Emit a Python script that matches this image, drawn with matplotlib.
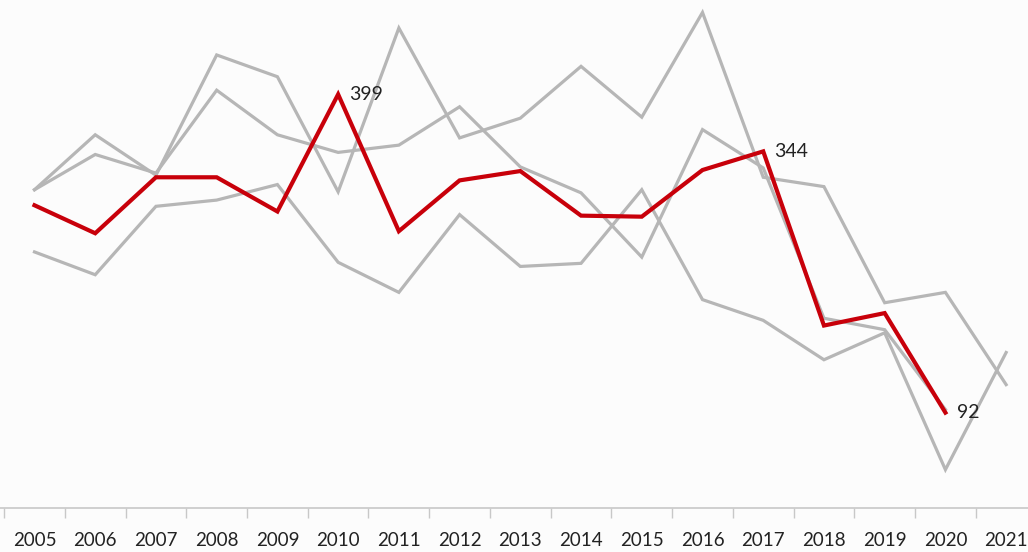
import matplotlib
matplotlib.use('Agg')
import matplotlib.pyplot as plt
import numpy as np

plt.rcParams['font.family'] = ['Lato', 'DejaVu Sans']

# Years on the category axis
years = ['2005', '2006', '2007', '2008', '2009', '2010', '2011', '2012', '2013',
         '2014', '2015', '2016', '2017', '2018', '2019', '2020', '2021']

# Highlighted series (red), no value for 2021
red_values = [292, 265, 319, 319, 286, 399, 267, 316, 325, 282, 281, 326, 344, 176, 188, 92]

# Background series (grey)
grey_a = [307, 360, 321, 437, 416, 305, 463, 357, 376, 426, 377, 478, 319, 310, 198, 208, 119]
grey_b = [307, 341, 323, 403, 360, 343, 350, 387, 329, 304, 242, 365, 328, 183, 172, 95]
grey_c = [247, 225, 291, 297, 312, 237, 208, 283, 233, 236, 307, 201, 181, 143, 169, 37, 150]

# Which points get a value label
labelled = {'2010': 399, '2017': 344, '2020': 92}

fig = plt.figure(figsize=(10.28, 5.52), dpi=100)
fig.patch.set_facecolor('#fcfcfc')
ax = fig.add_axes([0, 0.0797, 1, 0.9203])
ax.set_facecolor('#fcfcfc')

x = np.arange(len(years))

for series in [grey_c, grey_b, grey_a]:
    ax.plot(x[:len(series)], series, color='#b6b6b6', linewidth=2.3, solid_joinstyle='miter', zorder=2)

ax.plot(x[:len(red_values)], red_values, color='#c8000a', linewidth=3.0, solid_joinstyle='miter', zorder=3)

for yr, val in labelled.items():
    ax.annotate(str(val), (years.index(yr), val), xytext=(8, 0), textcoords='offset points',
                va='center', ha='left', fontsize=14, color='#222222', zorder=4)

ax.set_xticks(x)
ax.set_xticklabels(years, fontsize=13.5, color='#222222')
ax.set_xticks(np.arange(-0.5, len(years), 1), minor=True)
ax.tick_params(axis='x', which='major', length=0, pad=17)
ax.tick_params(axis='x', which='minor', length=7, width=1, color='#c8c8c8', direction='out')
ax.set_yticks([])

# limits after the ticks (set_xticks widens them); 2021 runs off the right edge
ax.set_xlim(-0.568, 16.36)
ax.set_ylim(0, 490)

for side in ['top', 'right', 'left']:
    ax.spines[side].set_visible(False)
ax.spines['bottom'].set_color('#c8c8c8')
ax.spines['bottom'].set_linewidth(1.2)

fig.savefig('out.png', dpi=100, facecolor=fig.get_facecolor())
